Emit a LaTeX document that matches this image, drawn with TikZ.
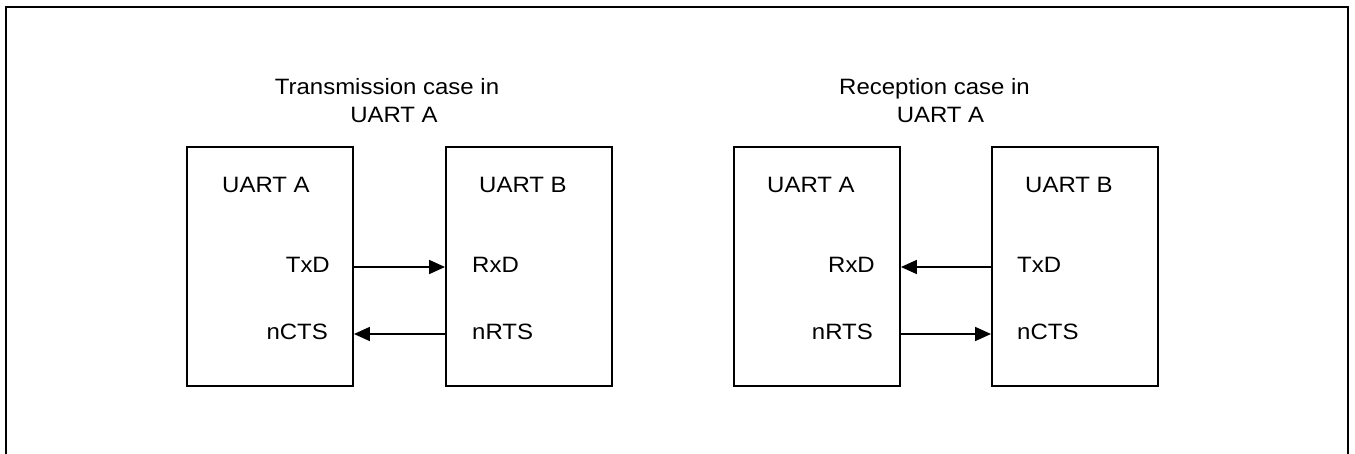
\documentclass[tikz,border=0pt]{standalone}
\usepackage{fontspec}
\setmainfont[FakeStretch=1.08]{Liberation Sans}
\usetikzlibrary{arrows.meta}
\begin{document}
\begin{tikzpicture}[x=1pt,y=-1pt,
  uart/.style={draw,line width=1.9pt,rectangle,minimum width=166pt,minimum height=239pt,inner sep=0pt},
  lbl/.style={inner sep=0pt,font=\fontsize{22.2}{27}\selectfont},
  arr/.style={line width=1.7pt,-{Triangle[length=16pt,width=14pt]}}]
\useasboundingbox (0,0) rectangle (1355,454);
\begin{scope}
\clip (0,0) rectangle (1355,454);
\draw[line width=2pt] (6,470) -- (6,7.5) -- (1348,7.5) -- (1348,470);
\end{scope}
% left panel
\node[lbl,anchor=base] (t1a) at (387,95) {Transmission case in};
\node[lbl,anchor=base] (t1b) at (394,122.7) {UART A};
\node[uart] (A1) at (270,266.5) {};
\node[uart] (B1) at (529,266.5) {};
\node[lbl,anchor=base west] (A1n) at (222,192.7) {UART A};
\node[lbl,anchor=base east] (A1t) at (330,273) {TxD};
\node[lbl,anchor=base east] (A1c) at (328,340) {nCTS};
\node[lbl,anchor=base west] (B1n) at (479,192.7) {UART B};
\node[lbl,anchor=base west] (B1r) at (472,273) {RxD};
\node[lbl,anchor=base west] (B1s) at (472,340) {nRTS};
\draw[arr] (A1.east |- 0,267) -- (B1.west |- 0,267);
\draw[arr] (B1.west |- 0,334) -- (A1.east |- 0,334);
% right panel
\node[lbl,anchor=base] (t2a) at (934.5,95) {Reception case in};
\node[lbl,anchor=base] (t2b) at (940.5,122.7) {UART A};
\node[uart] (A2) at (817,266.5) {};
\node[uart] (B2) at (1075,266.5) {};
\node[lbl,anchor=base west] (A2n) at (767,192.7) {UART A};
\node[lbl,anchor=base east] (A2r) at (875,273) {RxD};
\node[lbl,anchor=base east] (A2s) at (873,340) {nRTS};
\node[lbl,anchor=base west] (B2n) at (1025,192.7) {UART B};
\node[lbl,anchor=base west] (B2t) at (1017,273) {TxD};
\node[lbl,anchor=base west] (B2c) at (1017,340) {nCTS};
\draw[arr] (B2.west |- 0,267) -- (A2.east |- 0,267);
\draw[arr] (A2.east |- 0,334) -- (B2.west |- 0,334);
\end{tikzpicture}
\end{document}
